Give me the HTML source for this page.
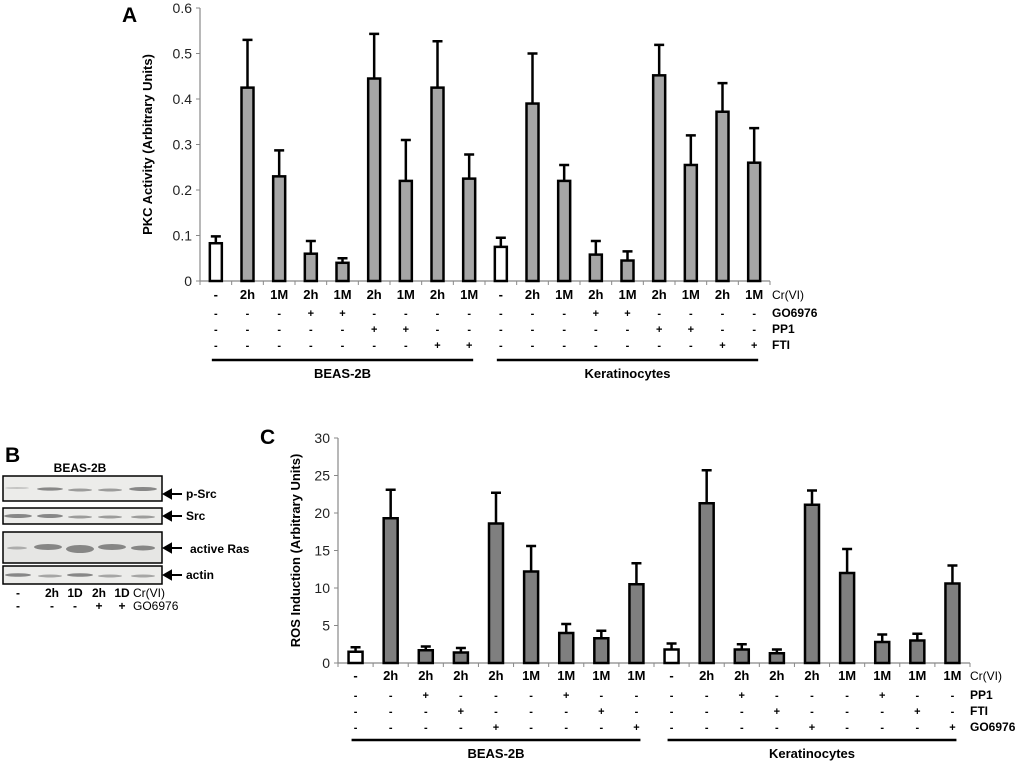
<!DOCTYPE html>
<html><head><meta charset="utf-8"><style>
body{margin:0;background:#fff;}
svg{display:block;font-family:"Liberation Sans",Arial,sans-serif;}
</style></head><body>
<svg id="fig" width="1020" height="767" viewBox="0 0 1020 767">
<text x="122" y="22" font-size="21" font-weight="bold">A</text>
<text x="5" y="462" font-size="21" font-weight="bold">B</text>
<text x="260" y="444" font-size="21" font-weight="bold">C</text>
<g id="chartA"></g>
<g id="chartC"></g>
<g id="blot">
<text x="80" y="472" font-size="12" font-weight="bold" text-anchor="middle">BEAS-2B</text>
<rect x="3" y="476" width="159" height="25" fill="#ececea" stroke="#000" stroke-width="1.5"/>
<rect x="3" y="508" width="159" height="16" fill="#ececea" stroke="#000" stroke-width="1.5"/>
<rect x="3" y="532" width="159" height="31" fill="#e6e6e4" stroke="#000" stroke-width="1.5"/>
<rect x="3" y="566" width="159" height="18" fill="#ececea" stroke="#000" stroke-width="1.5"/>
<g fill="#666" opacity=".75">
<ellipse cx="17" cy="488" rx="12" ry="1" opacity=".4"/><ellipse cx="50" cy="489" rx="13" ry="1.6"/><ellipse cx="80" cy="490" rx="12" ry="1.5" opacity=".8"/><ellipse cx="110" cy="490" rx="12" ry="1.5" opacity=".8"/><ellipse cx="143" cy="489" rx="14" ry="2"/>
<ellipse cx="18" cy="516" rx="14" ry="2"/><ellipse cx="50" cy="516" rx="13" ry="2"/><ellipse cx="80" cy="517" rx="12" ry="1.5" opacity=".8"/><ellipse cx="110" cy="517" rx="12" ry="1.5" opacity=".8"/><ellipse cx="143" cy="517" rx="12" ry="1.5" opacity=".8"/>
<ellipse cx="17" cy="548" rx="10" ry="1.5" opacity=".6"/><ellipse cx="48" cy="547" rx="14" ry="3"/><ellipse cx="80" cy="549" rx="14" ry="4"/><ellipse cx="112" cy="547" rx="14" ry="3"/><ellipse cx="143" cy="548" rx="12" ry="2.5"/>
<ellipse cx="18" cy="575" rx="13" ry="1.8"/><ellipse cx="50" cy="576" rx="12" ry="1.5" opacity=".7"/><ellipse cx="80" cy="575" rx="13" ry="1.8"/><ellipse cx="110" cy="576" rx="12" ry="1.5" opacity=".7"/><ellipse cx="143" cy="576" rx="12" ry="1.5" opacity=".7"/>
</g>
<g font-size="12" font-weight="bold">
<path d="M164 494h18M164 494l7-4v8z M164 516h18M164 516l7-4v8z M164 548h18M164 548l7-4v8z M164 575h18M164 575l7-4v8z" stroke="#000" stroke-width="2"/>
<text x="186" y="498">p-Src</text>
<text x="186" y="520">Src</text>
<text x="190" y="553">active Ras</text>
<text x="186" y="579">actin</text>
</g>
<g font-size="12" font-weight="bold" text-anchor="middle">
<text x="18" y="597">-</text><text x="52" y="597">2h</text><text x="75" y="597">1D</text><text x="99" y="597">2h</text><text x="122" y="597">1D</text>
<text x="18" y="610">-</text><text x="52" y="610">-</text><text x="75" y="610">-</text><text x="99" y="610">+</text><text x="122" y="610">+</text>
</g>
<text x="133" y="597" font-size="12">Cr(VI)</text>
<text x="133" y="610" font-size="12">GO6976</text>
</g>
</svg>
<script>
const NS='http://www.w3.org/2000/svg';
// Panel A data
const aCats=['-','2h','1M','2h','1M','2h','1M','2h','1M','-','2h','1M','2h','1M','2h','1M','2h','1M'];
const aValues=[0.083,0.425,0.23,0.06,0.04,0.445,0.22,0.425,0.225,0.075,0.39,0.22,0.058,0.045,0.452,0.255,0.372,0.26];
const aErrors=[0.015,0.105,0.057,0.028,0.01,0.098,0.09,0.102,0.053,0.02,0.11,0.035,0.03,0.02,0.067,0.065,0.063,0.076];
const aTicks=['0','0.1','0.2','0.3','0.4','0.5','0.6'];
const aGO=['-','-','-','+','+','-','-','-','-','-','-','-','+','+','-','-','-','-'];
const aPP1=['-','-','-','-','-','+','+','-','-','-','-','-','-','-','+','+','-','-'];
const aFTI=['-','-','-','-','-','-','-','+','+','-','-','-','-','-','-','-','+','+'];
// Panel C data
const cCats=['-','2h','2h','2h','2h','1M','1M','1M','1M','-','2h','2h','2h','2h','1M','1M','1M','1M'];
const cValues=[1.5,19.3,1.7,1.4,18.6,12.2,4.0,3.3,10.5,1.8,21.3,1.8,1.3,21.1,12.0,2.8,3.0,10.6];
const cErrors=[0.6,3.8,0.5,0.6,4.1,3.4,1.2,1.0,2.8,0.8,4.4,0.7,0.5,1.9,3.2,1.0,0.9,2.4];
const cTicks=['0','5','10','15','20','25','30'];
const cPP1=['-','-','+','-','-','-','+','-','-','-','-','+','-','-','-','+','-','-'];
const cFTI=['-','-','-','+','-','-','-','+','-','-','-','-','+','-','-','-','+','-'];
const cGO=['-','-','-','-','+','-','-','-','+','-','-','-','-','+','-','-','-','+'];

function el(g,tag,attrs,txt){const e=document.createElementNS(NS,tag);for(const k in attrs)e.setAttribute(k,attrs[k]);if(txt!==undefined)e.textContent=txt;g.appendChild(e);return e;}

function drawChart(gid,o){
  const g=document.getElementById(gid);
  const n=o.cats.length, step=(o.x1-o.x0)/n;
  const xc=i=>o.x0+step*(i+0.5);
  const y=v=>o.yb-(v/o.max)*(o.yb-o.yt);
  el(g,'line',{x1:o.x0,y1:o.yt,x2:o.x0,y2:o.yb,stroke:'#888','stroke-width':1.2});
  el(g,'line',{x1:o.x0,y1:o.yb,x2:o.x1,y2:o.yb,stroke:'#888','stroke-width':1.2});
  o.ticks.forEach((t,i)=>{const v=o.max*i/(o.ticks.length-1);
    el(g,'line',{x1:o.x0-4,y1:y(v),x2:o.x0,y2:y(v),stroke:'#888'});
    const tx=el(g,'text',{x:o.x0-8,y:y(v)+5,'font-size':14,'text-anchor':'end',fill:'#222'},t);
    
    
  });
  for(let i=0;i<=n;i++)el(g,'line',{x1:o.x0+step*i,y1:o.yb,x2:o.x0+step*i,y2:o.yb+4,stroke:'#888'});
  const yl=el(g,'text',{transform:`translate(${o.ylx},${(o.yt+o.yb)/2}) rotate(-90)`,'font-size':13,'font-weight':'bold','text-anchor':'middle'},o.ylabel);
  
  
  for(let i=0;i<n;i++){
    const x=xc(i), top=y(o.vals[i]), et=y(o.vals[i]+o.errs[i]);
    const eb=el(g,'path',{d:`M${x} ${top}V${et}M${x-5} ${et}H${x+5}`,stroke:'#000','stroke-width':2.5,fill:'none'});
    
    
    const r=el(g,'rect',{x:x-o.bw/2,y:top,width:o.bw,height:o.yb-top,fill:(i%9===0)?'#fff':o.fill,stroke:'#000','stroke-width':2.5});
    
    
  }
  const rows=[o.cats].concat(o.rows);
  rows.forEach((row,ri)=>{
    row.forEach((t,i)=>{el(g,'text',{x:xc(i),y:o.rowY[ri],'font-size':ri===0?13:11,'font-weight':'bold','text-anchor':'middle'},t);});
    const rl=el(g,'text',{x:o.rlx,y:o.rowY[ri],'font-size':12,'font-weight':ri===0?'normal':'bold'},o.rowNames[ri]);
    
    
  });
  [[0,8,o.groups[0]],[9,17,o.groups[1]]].forEach(([a,b,name])=>{
    el(g,'line',{x1:xc(a)-4,y1:o.lineY,x2:xc(b)+4,y2:o.lineY,stroke:'#000','stroke-width':2.5});
    const gl=el(g,'text',{x:(xc(a)+xc(b))/2,y:o.lineY+18,'font-size':13,'font-weight':'bold','text-anchor':'middle'},name);
    
    
  });
}
drawChart('chartA',{cats:aCats,vals:aValues,errs:aErrors,ticks:aTicks,max:0.6,x0:200,x1:770,yt:8,yb:281,bw:12,fill:'#a6a6a6',
  ylabel:'PKC Activity (Arbitrary Units)',ylx:152,rows:[aGO,aPP1,aFTI],rowNames:['Cr(VI)','GO6976','PP1','FTI'],rowY:[299,317,333,349],rlx:772,lineY:360,groups:['BEAS-2B','Keratinocytes']});
drawChart('chartC',{cats:cCats,vals:cValues,errs:cErrors,ticks:cTicks,max:30,x0:338,x1:970,yt:438,yb:663,bw:14,fill:'#7f7f7f',
  ylabel:'ROS Induction (Arbitrary Units)',ylx:300,rows:[cPP1,cFTI,cGO],rowNames:['Cr(VI)','PP1','FTI','GO6976'],rowY:[680,699,715,731],rlx:970,lineY:740,groups:['BEAS-2B','Keratinocytes']});
</script>
</body></html>
